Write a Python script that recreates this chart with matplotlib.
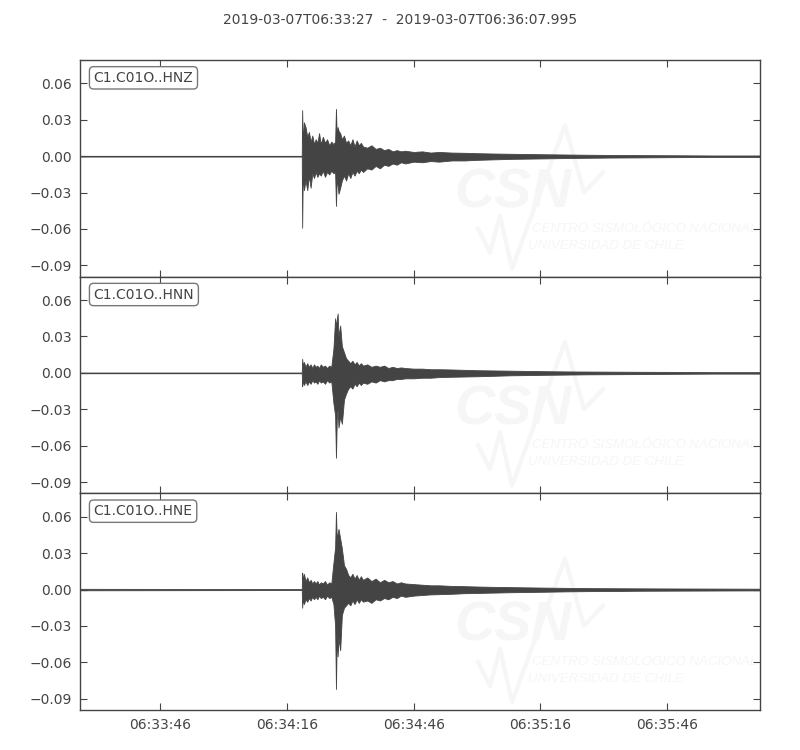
import datetime
import matplotlib
matplotlib.use("Agg")
import matplotlib.pyplot as plt
import matplotlib.dates as mdates
import numpy as np

# trace ids and time window
trace_ids = ["C1.C01O..HNZ", "C1.C01O..HNN", "C1.C01O..HNE"]
t_start = datetime.datetime(2019, 3, 7, 6, 33, 27)
duration = 160.995  # seconds

# envelope of each trace (seconds since t_start, upper / lower amplitude)
t_sec = [0, 52.5, 52.6, 52.75, 53.0, 53.4, 53.8, 54.2, 54.6, 55.0, 55.4, 55.8,
         56.2, 56.6, 57.0, 57.5, 58.0, 58.5, 59.0, 59.5, 60.0, 60.4, 60.6, 60.8,
         61.0, 61.2, 61.6, 62.0, 62.5, 63.0, 63.5, 64.0, 64.5, 65.0, 65.5, 66.0,
         66.5, 67.0, 68, 69, 70, 71, 72, 73, 74, 75, 76, 77, 79, 81, 83, 85, 88,
         91, 94, 98, 102, 106, 110, 115, 120, 126, 132, 140, 150, 161]

hnz_hi = [0.0003, 0.0003, 0.038, 0.010, 0.028, 0.024, 0.016, 0.020, 0.012, 0.017,
          0.010, 0.014, 0.011, 0.019, 0.010, 0.016, 0.011, 0.014, 0.009, 0.012,
          0.010, 0.012, 0.039, 0.015, 0.024, 0.021, 0.019, 0.014, 0.017, 0.011,
          0.013, 0.009, 0.014, 0.008, 0.013, 0.009, 0.011, 0.008, 0.007, 0.009,
          0.006, 0.007, 0.005, 0.006, 0.004, 0.005, 0.004, 0.0045, 0.0035, 0.004,
          0.003, 0.0035, 0.003, 0.0028, 0.0025, 0.0022, 0.002, 0.0018, 0.0016,
          0.0014, 0.0012, 0.001, 0.0009, 0.0008, 0.0006, 0.0006]
hnz_lo = [-0.0003, -0.0003, -0.059, -0.012, -0.028, -0.020, -0.028, -0.016, -0.026,
          -0.014, -0.018, -0.013, -0.017, -0.014, -0.016, -0.012, -0.017, -0.013,
          -0.015, -0.012, -0.014, -0.013, -0.041, -0.018, -0.024, -0.031, -0.026,
          -0.020, -0.016, -0.020, -0.014, -0.018, -0.013, -0.016, -0.012, -0.014,
          -0.011, -0.013, -0.010, -0.011, -0.008, -0.010, -0.007, -0.008, -0.006,
          -0.007, -0.005, -0.006, -0.0045, -0.005, -0.004, -0.0045, -0.0035,
          -0.0035, -0.003, -0.0026, -0.0022, -0.002, -0.0018, -0.0015, -0.0013,
          -0.0011, -0.001, -0.0008, -0.0006, -0.0006]

hnn_hi = [0.0003, 0.0003, 0.0116, 0.006, 0.009, 0.005, 0.008, 0.005, 0.007, 0.004,
          0.007, 0.005, 0.006, 0.004, 0.007, 0.005, 0.006, 0.004, 0.006, 0.005,
          0.020, 0.045, 0.038, 0.044, 0.049, 0.030, 0.039, 0.022, 0.017, 0.012,
          0.010, 0.008, 0.010, 0.007, 0.009, 0.006, 0.008, 0.006, 0.007, 0.005,
          0.006, 0.005, 0.006, 0.004, 0.005, 0.004, 0.0045, 0.004, 0.0035, 0.0035,
          0.003, 0.003, 0.0028, 0.0025, 0.0022, 0.002, 0.0018, 0.0016, 0.0014,
          0.0012, 0.0011, 0.001, 0.0009, 0.0008, 0.0006, 0.0006]
hnn_lo = [-0.0003, -0.0003, -0.011, -0.006, -0.010, -0.007, -0.010, -0.007, -0.009,
          -0.006, -0.008, -0.007, -0.009, -0.006, -0.008, -0.007, -0.009, -0.006,
          -0.008, -0.007, -0.025, -0.035, -0.070, -0.038, -0.030, -0.045, -0.036,
          -0.042, -0.022, -0.017, -0.013, -0.011, -0.013, -0.009, -0.011, -0.008,
          -0.010, -0.008, -0.009, -0.007, -0.008, -0.006, -0.007, -0.006, -0.006,
          -0.005, -0.005, -0.0045, -0.0045, -0.004, -0.004, -0.0035, -0.0032,
          -0.003, -0.0028, -0.0024, -0.002, -0.0018, -0.0016, -0.0014, -0.0012,
          -0.0011, -0.001, -0.0008, -0.0006, -0.0006]

hne_hi = [0.0006, 0.0004, 0.014, 0.008, 0.013, 0.007, 0.010, 0.006, 0.008, 0.005,
          0.007, 0.005, 0.007, 0.004, 0.006, 0.005, 0.007, 0.004, 0.006, 0.005,
          0.022, 0.035, 0.064, 0.040, 0.046, 0.050, 0.042, 0.034, 0.020, 0.017,
          0.012, 0.010, 0.013, 0.009, 0.012, 0.008, 0.011, 0.008, 0.010, 0.007,
          0.009, 0.006, 0.008, 0.006, 0.007, 0.005, 0.006, 0.005, 0.0045, 0.004,
          0.0035, 0.0035, 0.003, 0.0028, 0.0025, 0.0022, 0.002, 0.0018, 0.0016,
          0.0014, 0.0012, 0.0011, 0.001, 0.0009, 0.0008, 0.0007]
hne_lo = [-0.0006, -0.0004, -0.015, -0.008, -0.012, -0.008, -0.010, -0.007, -0.009,
          -0.006, -0.008, -0.006, -0.008, -0.005, -0.007, -0.006, -0.008, -0.005,
          -0.007, -0.006, -0.012, -0.030, -0.082, -0.036, -0.055, -0.040, -0.050,
          -0.021, -0.015, -0.013, -0.011, -0.013, -0.009, -0.012, -0.008, -0.011,
          -0.008, -0.010, -0.009, -0.011, -0.008, -0.009, -0.007, -0.008, -0.006,
          -0.007, -0.005, -0.006, -0.005, -0.0045, -0.004, -0.0038, -0.0035,
          -0.003, -0.0028, -0.0025, -0.0022, -0.002, -0.0018, -0.0015, -0.0013,
          -0.0012, -0.001, -0.0009, -0.0008, -0.0007]

envelopes = [(hnz_hi, hnz_lo), (hnn_hi, hnn_lo), (hne_hi, hne_lo)]
y_ticks = [-0.09, -0.06, -0.03, 0.0, 0.03, 0.06]
y_lim = (-0.0993, 0.0793)

grey = "#444444"
faint = "#f6f6f6"

fig = plt.figure(figsize=(8, 7.5), dpi=100)
fig.text(0.5, 0.973,
         "2019-03-07T06:33:27  -  2019-03-07T06:36:07.995",
         ha="center", va="center", fontsize=10, color=grey)

x0 = mdates.date2num(t_start)
x = x0 + np.array(t_sec) / 86400.0

left, right, bottom, top = 0.1, 0.95, 0.0533, 0.92
h = (top - bottom) / 3
for i, (tid, (hi, lo)) in enumerate(zip(trace_ids, envelopes)):
    ax = fig.add_axes([left, top - (i + 1) * h, right - left, h])

    # CSN watermark (background)
    ax.text(0.551, 0.319, "CSN", transform=ax.transAxes, fontsize=40,
            family="Liberation Sans", weight="bold", style="italic",
            color=faint, zorder=0, clip_on=True)
    ax.text(0.665, 0.208, "CENTRO SISMOLÓGICO NACIONAL", transform=ax.transAxes,
            fontsize=9.5, family="Liberation Sans", style="italic",
            color=faint, zorder=0, clip_on=True)
    ax.text(0.659, 0.130, "UNIVERSIDAD DE CHILE", transform=ax.transAxes,
            fontsize=9.5, family="Liberation Sans", style="italic",
            color=faint, zorder=0, clip_on=True)
    wx = np.array([478, 490, 500, 512, 565, 584, 603])
    wy = np.array([228, 252, 215, 268, 125, 192, 172])
    ax.plot((wx - 80) / 680.0, (276 - wy) / 216.0, transform=ax.transAxes,
            color=faint, lw=3, zorder=0)

    ax.fill_between(x, lo, hi, color=grey, lw=0.6, edgecolor=grey, zorder=2)

    ax.set_xlim(x0, x0 + duration / 86400.0)
    ax.set_ylim(*y_lim)
    ax.set_yticks(y_ticks)
    ax.yaxis.set_major_formatter(plt.FuncFormatter(
        lambda v, p: ("%.2f" % v).replace("-", "\u2212")))
    ax.xaxis.set_major_locator(mdates.SecondLocator(bysecond=[16, 46]))
    ax.xaxis.set_major_formatter(mdates.DateFormatter("%H:%M:%S"))
    ax.tick_params(direction="in", length=5, width=0.8, color=grey,
                   labelcolor=grey, labelsize=10, top=True, right=True)
    ax.tick_params(axis="y", pad=6)
    ax.tick_params(axis="x", pad=6)
    for sp in ax.spines.values():
        sp.set_color(grey)
        sp.set_linewidth(1.0)
    if i < 2:
        ax.tick_params(labelbottom=False)

    ax.text(0.02, 0.95, tid, transform=ax.transAxes, ha="left", va="top",
            fontsize=10, color=grey, zorder=5,
            bbox=dict(boxstyle="round,pad=0.3", fc="w", ec="#777777", lw=1))

fig.savefig("out.png", dpi=100)
